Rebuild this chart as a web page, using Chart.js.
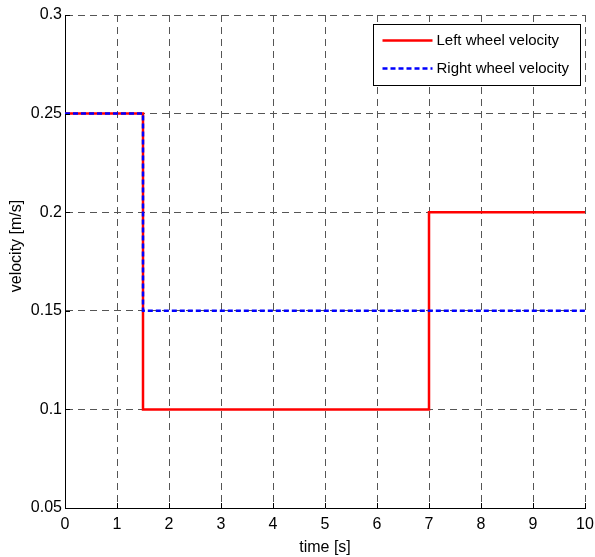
<!DOCTYPE html>
<html>
<head>
<meta charset="utf-8">
<script src="https://cdn.jsdelivr.net/npm/chart.js@4/dist/chart.umd.min.js"></script>
<style>
  html, body { margin: 0; padding: 0; background: #fff; }
  #wrap { width: 595px; height: 557px; }
</style>
</head>
<body>
<div id="wrap"><canvas id="c" width="595" height="557"></canvas></div>
<script>
// Step profile of the two wheel speeds: breakpoints in time and the value held from each one
const timeBreaks = [0, 1.5, 7, 10];
const leftWheel  = [0.25, 0.1, 0.2, 0.2];
const rightWheel = [0.25, 0.15, 0.15, 0.15];

const xTicks = [0, 1, 2, 3, 4, 5, 6, 7, 8, 9, 10];
const yTicks = [0.05, 0.1, 0.15, 0.2, 0.25, 0.3];
const yTickLabels = ['0.05', '0.1', '0.15', '0.2', '0.25', '0.3'];

const seriesNames = ['Left wheel velocity', 'Right wheel velocity'];
const xTitle = 'time [s]';
const yTitle = 'velocity [m/s]';

const toPoints = (xs, ys) => xs.map((x, i) => ({ x, y: ys[i] }));

const FONT = 'Liberation Sans, Arial, sans-serif';

// Inward tick marks on the left and bottom axes, plus the vertical axis title
const axisDecor = {
  id: 'axisDecor',
  afterDraw(chart) {
    const { ctx, chartArea: a, scales: { x, y } } = chart;
    ctx.save();
    ctx.strokeStyle = '#000';
    ctx.lineWidth = 1;
    ctx.beginPath();
    xTicks.forEach(v => {
      const px = Math.round(x.getPixelForValue(v)) + 0.5;
      ctx.moveTo(px, a.bottom);
      ctx.lineTo(px, a.bottom - 5);
    });
    yTicks.forEach(v => {
      const py = Math.round(y.getPixelForValue(v)) + 0.5;
      ctx.moveTo(a.left, py);
      ctx.lineTo(a.left + 5, py);
    });
    ctx.stroke();

    ctx.translate(17, 246);
    ctx.rotate(-Math.PI / 2);
    ctx.font = '16px ' + FONT;
    ctx.fillStyle = '#000';
    ctx.textAlign = 'center';
    ctx.textBaseline = 'middle';
    ctx.fillText(yTitle, 0, 0);
    ctx.restore();
  }
};

// Boxed legend in the upper right corner of the plot
const boxLegend = {
  id: 'boxLegend',
  afterDraw(chart) {
    const { ctx, chartArea: a } = chart;
    const w = 207, h = 61;
    const bx = a.right - 5 - w + 0.5, by = a.top + 9 + 0.5;
    ctx.save();
    ctx.fillStyle = '#fff';
    ctx.fillRect(bx, by, w, h);
    ctx.strokeStyle = '#000';
    ctx.lineWidth = 1;
    ctx.strokeRect(bx, by, w, h);
    ctx.font = '15px ' + FONT;
    ctx.textBaseline = 'middle';
    ctx.fillStyle = '#000';
    const ordered = [chart.data.datasets[1], chart.data.datasets[0]];
    ordered.forEach((ds, i) => {
      const ly = by + 16 + i * 28;
      ctx.beginPath();
      ctx.strokeStyle = ds.borderColor;
      ctx.lineWidth = ds.borderWidth;
      ctx.setLineDash(ds.borderDash || []);
      ctx.moveTo(bx + 9, ly);
      ctx.lineTo(bx + 59, ly);
      ctx.stroke();
      ctx.setLineDash([]);
      ctx.fillText(ds.label, bx + 63, ly);
    });
    ctx.restore();
  }
};

new Chart(document.getElementById('c'), {
  type: 'line',
  data: {
    datasets: [
      {
        label: seriesNames[1],
        data: toPoints(timeBreaks, rightWheel),
        stepped: 'before',
        borderColor: '#0000ff',
        borderWidth: 2.5,
        borderDash: [5, 3],
        pointRadius: 0,
        fill: false,
        order: 0
      },
      {
        label: seriesNames[0],
        data: toPoints(timeBreaks, leftWheel),
        stepped: 'before',
        borderColor: '#ff0000',
        borderWidth: 2.5,
        pointRadius: 0,
        fill: false,
        order: 1
      }
    ]
  },
  options: {
    responsive: false,
    animation: false,
    layout: { padding: { top: 15, right: 10, left: 0, bottom: 0 } },
    plugins: { legend: { display: false }, tooltip: { enabled: false } },
    scales: {
      x: {
        type: 'linear',
        min: 0, max: 10,
        afterBuildTicks(s) { s.ticks = xTicks.map(v => ({ value: v })); },
        afterFit(s) { s.height = 49; s.paddingLeft = 0; s.paddingRight = 0; },
        grid: { color: '#555', drawTicks: false, lineWidth: 1 },
        border: { display: true, color: '#000', width: 1, dash: [7, 5] },
        ticks: { color: '#000', font: { family: FONT, size: 16 }, padding: 7, maxRotation: 0, autoSkip: false },
        title: { display: true, text: xTitle, color: '#000', font: { family: FONT, size: 16 }, padding: { top: 0, bottom: 0 } }
      },
      y: {
        type: 'linear',
        min: 0.05, max: 0.3,
        afterBuildTicks(s) { s.ticks = yTicks.map(v => ({ value: v })); },
        afterFit(s) { s.width = 65; s.paddingTop = 0; s.paddingBottom = 0; },
        grid: { color: '#555', drawTicks: false, lineWidth: 1 },
        border: { display: true, color: '#000', width: 1, dash: [7, 5] },
        ticks: {
          color: '#000', font: { family: FONT, size: 16 }, padding: 3, autoSkip: false,
          callback(v) { const i = yTicks.findIndex(t => Math.abs(t - v) < 1e-9); return i >= 0 ? yTickLabels[i] : ''; }
        },
        title: { display: false }
      }
    }
  },
  plugins: [axisDecor, boxLegend]
});
</script>
</body>
</html>
